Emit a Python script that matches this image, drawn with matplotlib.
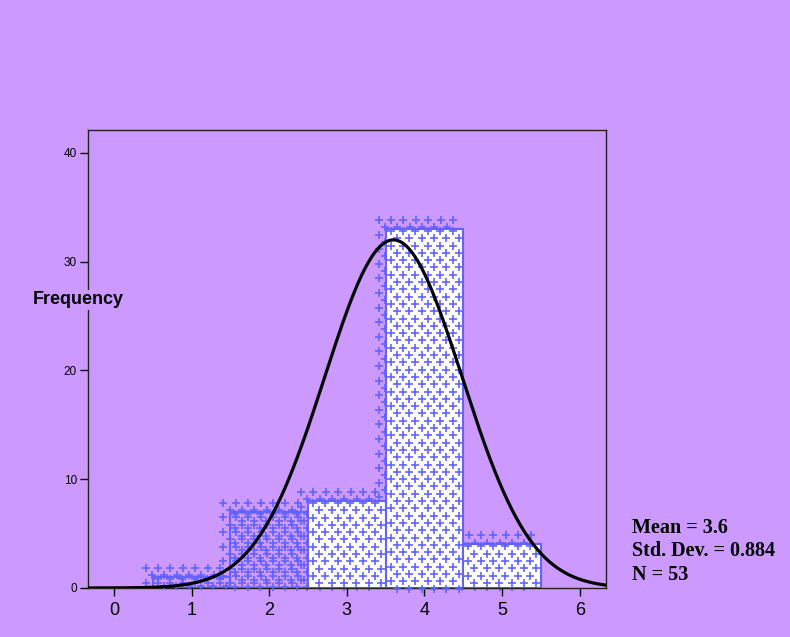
import numpy as np
import matplotlib.pyplot as plt

# histogram data
bin_centers = [1, 2, 3, 4, 5]
counts = [1, 7, 8, 33, 4]
filled = [False, False, True, True, True]
mean = 3.6
std_dev = 0.884
n_cases = 53
curve_peak = 32
x_ticks = [0, 1, 2, 3, 4, 5, 6]
y_ticks = [0, 10, 20, 30, 40]

purple = '#cc99ff'
blue = '#6262ff'

fig = plt.figure(figsize=(7.9, 6.37), dpi=100, facecolor=purple)
ax = fig.add_axes([88 / 790, 1 - 588 / 637, (606 - 88) / 790, (588 - 130) / 637])
ax.set_facecolor(purple)
ax.set_xlim(-0.333, 6.338)
ax.set_ylim(0, 42.1)


def plus_fill(x0, x1, h, dx=0, dy=0, right_pad=2, z=1):
    # staggered grid of '+' marks anchored at the rect's top-left corner (pixels)
    p0 = ax.transData.transform((x0, 0))
    p1 = ax.transData.transform((x1, h))
    left, right = p0[0] + dx, p1[0] - right_pad
    top, base = p1[1] + dy, p0[1]
    gx, gy = 12.4, 7.3
    pts = []
    r = 0
    yy = top
    while yy >= base - 1:
        off = (r % 2) * gx / 2
        xx = left + off
        while xx <= right:
            pts.append((xx, yy))
            xx += gx
        r += 1
        yy = top - r * gy
    pts = ax.transData.inverted().transform(np.array(pts))
    ax.plot(pts[:, 0], pts[:, 1], '+', ms=6, mew=1.2, color=blue,
            zorder=z, clip_on=False)


# shadows (pattern only, shifted up/left)
for c, h in zip(bin_centers, counts):
    plus_fill(c - 0.5, c + 0.5, h, dx=-7, dy=9, right_pad=7, z=1)

# bars
for c, h, f in zip(bin_centers, counts, filled):
    ax.bar(c, h, width=1, facecolor='white' if f else 'none',
           edgecolor=blue, linewidth=1.5, zorder=2)
    plus_fill(c - 0.5, c + 0.5, h, dx=5, dy=-2, right_pad=3, z=3)

# normal curve
xs = np.linspace(-0.333, 6.338, 500)
ax.plot(xs, curve_peak * np.exp(-0.5 * ((xs - mean) / std_dev) ** 2),
        color='black', linewidth=2.3, zorder=5)

ax.set_xticks(x_ticks)
ax.set_yticks(y_ticks)
ax.tick_params(axis='x', direction='out', length=6, width=1, labelsize=13, pad=4)
ax.tick_params(axis='y', direction='out', length=6, width=1, labelsize=8.5, pad=2)
for lab in ax.get_xticklabels() + ax.get_yticklabels():
    lab.set_family('Liberation Sans')
for sp in ax.spines.values():
    sp.set_color('#222222')
    sp.set_linewidth(1)

fig.text(78 / 790, 1 - 300 / 637, 'Frequency', ha='center', va='center',
         fontsize=13, fontweight='bold', family='Liberation Sans',
         bbox=dict(facecolor=purple, edgecolor='none', pad=1))

stats = ['Mean = %.1f' % mean, 'Std. Dev. = %.3f' % std_dev, 'N = %d' % n_cases]
for i, s in enumerate(stats):
    fig.text(632 / 790, 1 - (528 + 23.5 * i) / 637, s, ha='left', va='center',
             fontsize=14.5, fontweight='bold', family='Liberation Serif')

fig.savefig('out.png', dpi=100, facecolor=purple)
